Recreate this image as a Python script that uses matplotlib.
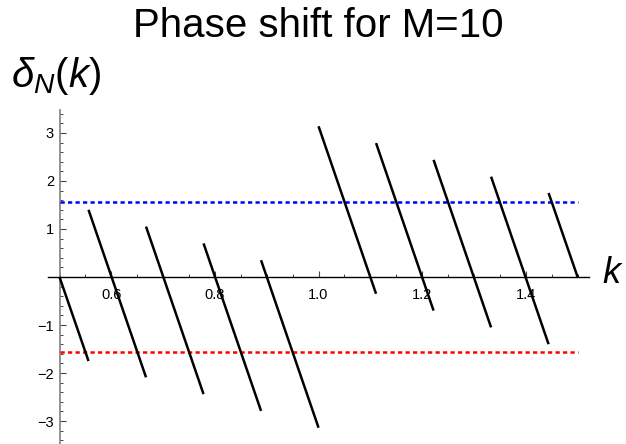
import numpy as np
import matplotlib
matplotlib.use("Agg")
import matplotlib.pyplot as plt
from matplotlib.ticker import MultipleLocator, FixedLocator

plt.rcParams['font.family'] = ['Liberation Sans', 'DejaVu Sans']
plt.rcParams['mathtext.fontset'] = 'custom'
plt.rcParams['mathtext.rm'] = 'Liberation Sans'
plt.rcParams['mathtext.it'] = 'Liberation Sans:italic'

# Branch points of the wrapped phase shift and the values at each branch's ends
k_breaks = [0.500, 0.556, 0.667, 0.778, 0.889, 1.000, 1.111, 1.222, 1.333, 1.444, 1.500]
delta_start = [0.00, 1.40, 1.05, 0.70, 0.35, 3.14, 2.79, 2.44, 2.09, 1.75]
delta_end = [-1.75, -2.09, -2.44, -2.79, -3.14, -0.35, -0.70, -1.05, -1.40, 0.00]

# Reference levels +pi/2 and -pi/2
upper_level = np.pi / 2
lower_level = -np.pi / 2
k_range = [0.5, 1.5]

x_major = [0.6, 0.8, 1.0, 1.2, 1.4]
y_major = [-3, -2, -1, 1, 2, 3]

W, H = 626, 444
fig = plt.figure(figsize=(W / 100, H / 100), dpi=100)
ax = fig.add_axes([48 / W, 0, 541 / W, 334 / H])
ax.set_xlim(0.4778, 1.522)
ax.set_ylim(-3.479, 3.479)

ax.plot(k_range, [upper_level] * 2, color=(0, 0, 1), lw=1.8, dashes=(1.7, 1.3), zorder=3)
ax.plot(k_range, [lower_level] * 2, color=(1, 0, 0), lw=1.8, dashes=(1.7, 1.3), zorder=3)

for i in range(len(delta_start)):
    ax.plot([k_breaks[i], k_breaks[i + 1]], [delta_start[i], delta_end[i]],
            color='black', lw=1.8, solid_capstyle='butt', zorder=4)

# Axes crossing at (0.5, 0)
for s in ('top', 'right'):
    ax.spines[s].set_visible(False)
ax.spines['left'].set_position(('data', 0.5))
ax.spines['bottom'].set_position(('data', 0))
ax.spines['left'].set_color('#808080')
ax.spines['bottom'].set_color('black')
ax.spines['left'].set_linewidth(1.2)
ax.spines['bottom'].set_linewidth(1.0)

ax.xaxis.set_major_locator(FixedLocator(x_major))
ax.xaxis.set_minor_locator(MultipleLocator(0.05))
ax.yaxis.set_major_locator(FixedLocator(y_major))
ax.yaxis.set_minor_locator(MultipleLocator(0.2))
ax.set_xticklabels([f"{v:.1f}" for v in x_major])
ax.set_yticklabels([f"{v}".replace('-', '\u2212') for v in y_major])

ax.tick_params(axis='x', which='major', direction='in', length=4.0, width=0.8,
               color='#444444', labelsize=10.5, pad=8)
ax.tick_params(axis='x', which='minor', direction='in', length=2.5, width=0.7,
               color='#444444')
ax.tick_params(axis='y', which='major', direction='in', length=4.0, width=0.8,
               color='#444444', labelsize=10.5, pad=4)
ax.tick_params(axis='y', which='minor', direction='in', length=2.5, width=0.7,
               color='#444444')

fig.text(318.5 / W, 1 - 37 / H, "Phase shift for M=10", ha='center', va='baseline',
         fontsize=29)
fig.text(11 / W, 1 - 87 / H, r"$\delta_N(k)$", ha='left', va='baseline', fontsize=29)
fig.text(602 / W, 1 - 283 / H, r"$k$", ha='left', va='baseline', fontsize=26)

fig.savefig("out.png", dpi=100)
